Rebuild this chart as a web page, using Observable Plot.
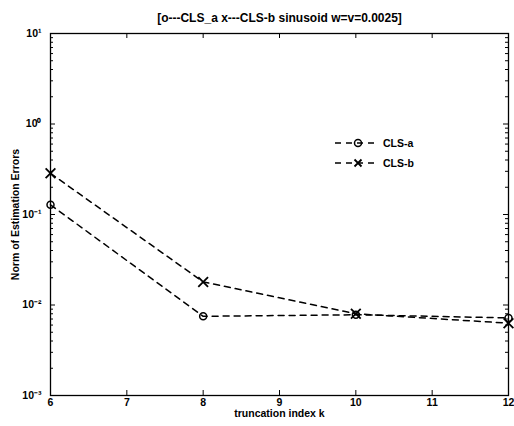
<!DOCTYPE html>
<html><head><meta charset="utf-8">
<script src="https://cdn.jsdelivr.net/npm/d3@7"></script>
<script src="https://cdn.jsdelivr.net/npm/@observablehq/plot@0.6"></script>
<style>
body{margin:0;background:#fff;}
#wrap{position:relative;width:514px;height:426px;font-family:"Liberation Sans",Arial,sans-serif;}
#legend{position:absolute;left:334px;top:133px;font-size:10.5px;font-weight:bold;}
#legend .row{display:flex;align-items:center;height:20px;}
#legend svg{margin-right:3px;}
</style></head><body><div id="wrap"><div id="legend"></div></div>
<script>
const k = [6, 8, 10, 12];
const clsA = [0.128, 0.0075, 0.0078, 0.0072];
const clsB = [0.285, 0.018, 0.0080, 0.0063];
const seriesNames = ["CLS-a", "CLS-b"];
const seriesSymbols = ["circle", "times"];
const xTicks = [6, 7, 8, 9, 10, 11, 12];
const yTicks = [1e-3, 1e-2, 1e-1, 1, 10];
const yTickLabels = ["10\u207B\u00B3", "10\u207B\u00B2", "10\u207B\u00B9", "10\u2070", "10\u00B9"];
const titleText = "[o---CLS_a x---CLS-b sinusoid w=v=0.0025]";
const xLabel = "truncation index k";
const yLabel = "Norm of Estimation Errors";

const data = k.flatMap((kk, i) => [
  {k: kk, v: clsA[i], s: seriesNames[0]},
  {k: kk, v: clsB[i], s: seriesNames[1]}
]);
const minor = [];
for (let i = 0; i < yTicks.length - 1; i++) for (let m = 2; m <= 9; m++) minor.push(yTicks[i] * m);

const W = 514, H = 426, mL = 50, mR = 6, mT = 33, mB = 31;
const pw = W - mL - mR, ph = H - mT - mB;

const chart = Plot.plot({
  width: W, height: H,
  marginLeft: mL, marginRight: mR, marginTop: mT, marginBottom: mB,
  style: {fontFamily: "'Liberation Sans', Arial, sans-serif", fontSize: "10px", fontWeight: "bold", color: "#000", background: "#fff"},
  x: {domain: [6, 12]},
  y: {type: "log", domain: [1e-3, 10]},
  marks: [
    Plot.frame({stroke: "#000", strokeWidth: 1.3}),
    Plot.axisX(xTicks, {anchor: "bottom", tickSize: 0, tickPadding: 3, tickFormat: d => String(d), fontSize: 10.5, fontWeight: "bold", label: null}),
    Plot.axisY(yTicks, {anchor: "left", tickSize: 0, tickPadding: 9, tickFormat: d => yTickLabels[yTicks.indexOf(d)], fontSize: 10.5, fontWeight: "bold", label: null}),
    Plot.tickX(xTicks, {x: d => d, insetTop: ph - 5, stroke: "#000"}),
    Plot.tickX(xTicks, {x: d => d, insetBottom: ph - 5, stroke: "#000"}),
    Plot.tickY(yTicks, {y: d => d, insetRight: pw - 5, stroke: "#000"}),
    Plot.tickY(yTicks, {y: d => d, insetLeft: pw - 5, stroke: "#000"}),
    Plot.tickY(minor, {y: d => d, insetRight: pw - 3, stroke: "#000"}),
    Plot.tickY(minor, {y: d => d, insetLeft: pw - 3, stroke: "#000"}),
    Plot.line(data, {x: "k", y: "v", z: "s", stroke: "#000", strokeWidth: 1.5, strokeDasharray: "6,5"}),
    Plot.dot(data.filter(d => d.s === seriesNames[0]), {x: "k", y: "v", symbol: "circle", r: 3.5, stroke: "#000", strokeWidth: 1.5, fill: "none"}),
    Plot.dot(data.filter(d => d.s === seriesNames[1]), {x: "k", y: "v", symbol: "times", r: 4.5, stroke: "#000", strokeWidth: 1.8}),
    Plot.text([titleText], {frameAnchor: "top", dy: -20, fontSize: 12, fontWeight: "bold"}),
    Plot.text([xLabel], {frameAnchor: "bottom", dy: 21, fontSize: 10.5, fontWeight: "bold"}),
    Plot.text([yLabel], {frameAnchor: "left", textAnchor: "middle", dx: -35, rotate: -90, fontSize: 10.5, fontWeight: "bold"})
  ]
});
document.getElementById("wrap").prepend(chart);

const legend = document.getElementById("legend");
seriesNames.forEach((name, i) => {
  const row = document.createElement("div");
  row.className = "row";
  const sym = seriesSymbols[i] === "circle"
    ? '<circle cx="24" cy="7" r="3.5" fill="none" stroke="#000" stroke-width="1.5"/>'
    : '<path d="M20.5,3.5L27.5,10.5M27.5,3.5L20.5,10.5" stroke="#000" stroke-width="1.8"/>';
  row.innerHTML = '<svg width="46" height="14"><line x1="1" y1="7" x2="45" y2="7" stroke="#000" stroke-width="1.5" stroke-dasharray="6,5"/>' + sym + '</svg><span>' + name + '</span>';
  legend.appendChild(row);
});
</script>
</body></html>
